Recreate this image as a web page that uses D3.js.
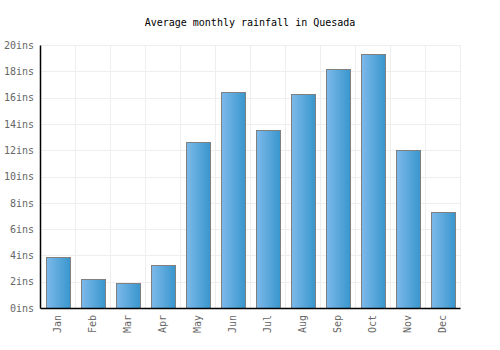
<!DOCTYPE html>
<html><head><meta charset="utf-8">
<script src="https://cdn.jsdelivr.net/npm/d3@7"></script>
<style>body{margin:0;background:#fff}svg{display:block}</style>
</head><body><svg id="c" width="500" height="350"></svg>
<script>
const months = ["Jan","Feb","Mar","Apr","May","Jun","Jul","Aug","Sep","Oct","Nov","Dec"];
const rainfall = [3.9, 2.2, 1.9, 3.3, 12.6, 16.4, 13.5, 16.3, 18.2, 19.3, 12.0, 7.3];
const yTicks = [0,2,4,6,8,10,12,14,16,18,20];
const title = "Average monthly rainfall in Quesada";

const svg = d3.select("#c");
const font = "'DejaVu Sans Mono', monospace";
const L = 40, R = 460, T = 45, B = 308;
const x = d3.scaleBand().domain(months).range([L, R]).paddingInner(0.32).paddingOuter(0.16);
const xb = d3.scaleBand().domain(months).range([L, R]);
const y = d3.scaleLinear().domain([0, 20]).range([B, T]);

const defs = svg.append("defs");
const g = defs.append("linearGradient").attr("id","bg").attr("x1","0").attr("x2","1").attr("y1","0").attr("y2","0");
g.append("stop").attr("offset","0%").attr("stop-color","#7db9ea");
g.append("stop").attr("offset","100%").attr("stop-color","#3896cd");

svg.append("text").attr("x",250).attr("y",26).attr("text-anchor","middle")
  .attr("font-family",font).attr("font-size",10).attr("fill","#000").text(title);

// grid
svg.append("g").selectAll("line").data(yTicks).join("line")
  .attr("x1",L).attr("x2",R).attr("y1",d=>Math.round(y(d))+0.5).attr("y2",d=>Math.round(y(d))+0.5)
  .attr("stroke","#eeeeee").attr("stroke-width",1);
svg.append("g").selectAll("line").data(months).join("line")
  .attr("x1",d=>Math.round(xb(d)+xb.bandwidth())+0.5).attr("x2",d=>Math.round(xb(d)+xb.bandwidth())+0.5)
  .attr("y1",T).attr("y2",B).attr("stroke","#eeeeee").attr("stroke-width",1);

// bars
svg.append("g").selectAll("rect").data(rainfall).join("rect")
  .attr("x",(d,i)=>Math.round(x(months[i]))+0.5)
  .attr("y",d=>Math.round(y(d))+0.5)
  .attr("width",Math.round(x.bandwidth()))
  .attr("height",d=>B-Math.round(y(d)))
  .attr("fill","url(#bg)").attr("stroke","#808080").attr("stroke-width",1);

// axes
const ya = svg.append("g").attr("transform",`translate(${L},0)`)
  .call(d3.axisLeft(y).tickValues(yTicks).tickSize(0).tickPadding(6).tickFormat(d=>d+"ins"));
ya.select(".domain").attr("stroke","#000").attr("stroke-width",1.5);
ya.selectAll("text").attr("font-family",font).attr("font-size",10).attr("fill","#666");

const xa = svg.append("g").attr("transform",`translate(0,${B})`)
  .call(d3.axisBottom(x).tickSize(0).tickPadding(6));
xa.select(".domain").attr("stroke","#000").attr("stroke-width",1.5);
xa.selectAll("text").attr("font-family",font).attr("font-size",10).attr("fill","#666")
  .attr("transform","rotate(-90)").attr("text-anchor","end").attr("dy","0.35em").attr("y",0).attr("x",0)
  .attr("dx","-7");
</script></body></html>
